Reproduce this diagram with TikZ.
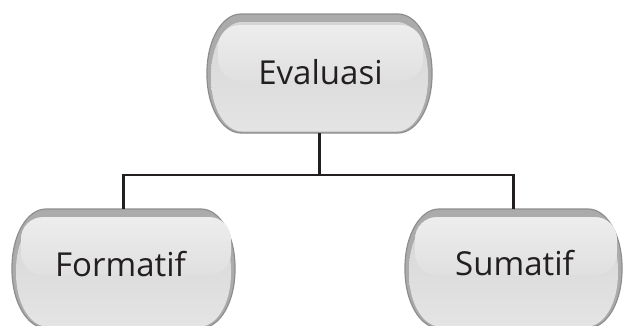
\documentclass[tikz,border=0pt]{standalone}
\usepackage{fontspec}
\setmainfont{Open Sans}
\usetikzlibrary{calc}

\definecolor{inkdark}{HTML}{231F20}
\definecolor{rimgray}{HTML}{8E8E8E}
\definecolor{bandgray}{HTML}{ABABAB}
\definecolor{bodytop}{HTML}{D6D6D6}
\definecolor{bodymid}{HTML}{CBCBCB}
\definecolor{bodybot}{HTML}{E4E4E4}
\definecolor{glosstop}{HTML}{EDEDED}
\definecolor{glossbot}{HTML}{E0E0E0}

% pill outline: left, bottom, right, top, corner x radius, corner y radius
\newcommand\pillpath[6]{({#1+#5},{#4}) -- ({#3-#5},{#4})
  arc[start angle=90,end angle=0,x radius=#5,y radius=#6] -- ({#3},{#2+#6})
  arc[start angle=0,end angle=-90,x radius=#5,y radius=#6] -- ({#1+#5},{#2})
  arc[start angle=270,end angle=180,x radius=#5,y radius=#6] -- ({#1},{#4-#6})
  arc[start angle=180,end angle=90,x radius=#5,y radius=#6] -- cycle}

% glossy button: outer box, then the glass highlight box (left, bottom, right, top)
\newcommand\glassbutton[8]{%
  \fill[bandgray] \pillpath{#1}{#2}{#3}{#4}{34}{58};
  \shade[top color=bodytop, middle color=bodymid, bottom color=bodybot]
    \pillpath{#1+4}{#2+1.5}{#3-4}{#4-8}{31}{53};
  \draw[rimgray, line width=1.2pt] \pillpath{#1}{#2}{#3}{#4}{34}{58};
  \shade[top color=glosstop, bottom color=glossbot, rounded corners=22pt]
    (#5,#6) rectangle (#7,#8);
}

\tikzset{
  label/.style={inner sep=0pt, outer sep=0pt, text=inkdark,
    font=\fontsize{33}{38}\selectfont},
  wire/.style={draw=inkdark, line width=2.6pt},
}

\begin{document}
\begin{tikzpicture}[x=1pt, y=1pt]
  \useasboundingbox (0,0) rectangle (624,325);
  \clip (0,0) rectangle (624,325);

  % button bodies
  \glassbutton{207}{192}{432}{311}{218}{244}{423}{300}
  \glassbutton{12}{-3}{235}{116}{21}{50}{231}{108}
  \glassbutton{405}{-3}{622}{116}{415}{50}{617}{108}

  % labels, sized as the buttons
  \node[label, minimum width=225pt, minimum height=119pt] (ev) at (319.5,251.5) {};
  \node[label, minimum width=223pt, minimum height=119pt] (fo) at (123.5,56.5) {};
  \node[label, minimum width=217pt, minimum height=119pt] (su) at (513.5,56.5) {};
  \node[label] at ([xshift=1pt,yshift=1pt]ev.center) {Evaluasi};
  \node[label] at ([xshift=-3pt,yshift=4pt]fo.center) {Formatif};
  \node[label] at ([xshift=1pt,yshift=5pt]su.center) {Sumatif};

  % tree connectors
  \coordinate (bus) at (0,150);
  \draw[wire] (ev.south) -- (ev.south |- bus);
  \draw[wire] (fo.north) -- (fo.north |- bus) -- (su.north |- bus) -- (su.north);
\end{tikzpicture}
\end{document}
